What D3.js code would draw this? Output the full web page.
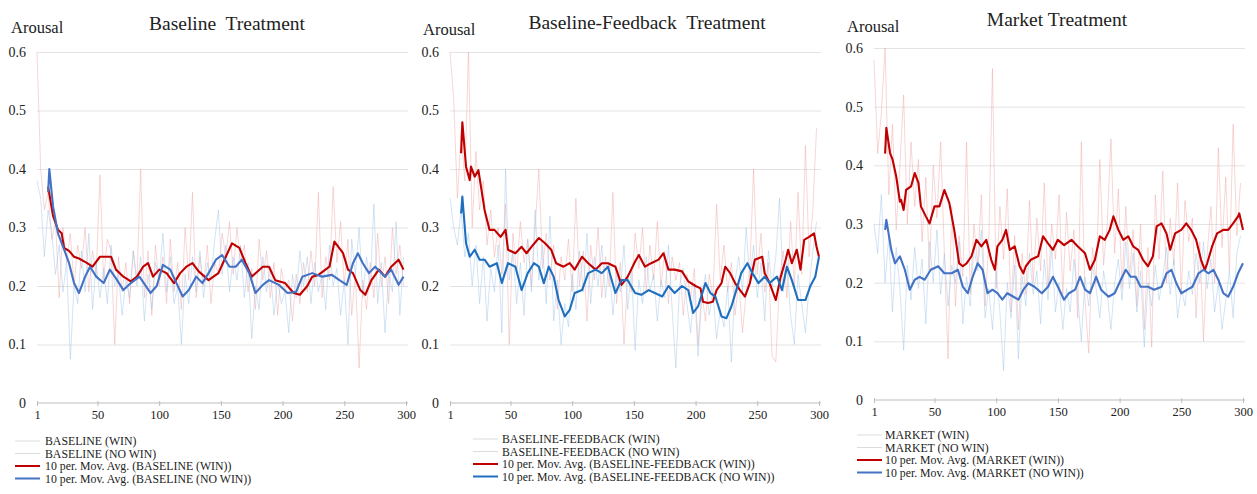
<!DOCTYPE html>
<html><head><meta charset="utf-8">
<script src="https://cdn.jsdelivr.net/npm/d3@7/dist/d3.min.js"></script>
<style>body{margin:0;background:#fff}svg{display:block}text{font-family:"Liberation Serif","Times New Roman",serif;fill:#222}</style>
</head><body><svg id="c" width="1257" height="494"></svg>
<script>
// ---------- data ----------
const yTicks = [0, 0.1, 0.2, 0.3, 0.4, 0.5, 0.6];
const yTickLabels = ["0", "0.1", "0.2", "0.3", "0.4", "0.5", "0.6"];
const xTicks = [1, 50, 100, 150, 200, 250, 300];
const titles = ["Baseline  Treatment", "Baseline-Feedback  Treatment", "Market Treatment"];
const yLabel = "Arousal";
const legendBaseline = ["BASELINE (WIN)", "BASELINE (NO WIN)", "10 per. Mov. Avg. (BASELINE (WIN))", "10 per. Mov. Avg. (BASELINE (NO WIN))"];
const legendFeedback = ["BASELINE-FEEDBACK (WIN)", "BASELINE-FEEDBACK (NO WIN)", "10 per. Mov. Avg. (BASELINE-FEEDBACK (WIN))", "10 per. Mov. Avg. (BASELINE-FEEDBACK (NO WIN))"];
const legendMarket = ["MARKET (WIN)", "MARKET (NO WIN)", "10 per. Mov. Avg. (MARKET (WIN))", "10 per. Mov. Avg. (MARKET (NO WIN))"];

// raw series, one value every 3 periods (periods 1,4,7,...,298)
const baseWin = [0.60,0.40,0.33,0.36,0.28,0.31,0.18,0.30,0.24,0.29,0.20,0.27,0.23,0.30,0.19,0.26,0.22,0.39,0.21,0.28,0.26,0.10,0.25,0.19,0.24,0.17,0.26,0.21,0.40,0.18,0.26,0.15,0.27,0.20,0.25,0.17,0.28,0.19,0.24,0.16,0.30,0.21,0.36,0.18,0.25,0.20,0.27,0.17,0.24,0.22,0.29,0.25,0.31,0.22,0.30,0.24,0.27,0.19,0.23,0.16,0.28,0.21,0.26,0.18,0.24,0.15,0.23,0.19,0.21,0.14,0.22,0.17,0.24,0.19,0.26,0.20,0.36,0.18,0.25,0.21,0.37,0.24,0.31,0.20,0.28,0.15,0.22,0.06,0.21,0.16,0.24,0.18,0.29,0.20,0.25,0.17,0.30,0.22,0.27,0.20];
const baseNoWin = [0.38,0.35,0.25,0.33,0.29,0.22,0.27,0.19,0.24,0.075,0.20,0.17,0.26,0.19,0.29,0.16,0.24,0.18,0.23,0.17,0.27,0.20,0.22,0.15,0.21,0.18,0.26,0.20,0.25,0.14,0.22,0.16,0.24,0.21,0.29,0.19,0.25,0.17,0.20,0.10,0.22,0.17,0.25,0.19,0.26,0.18,0.24,0.21,0.28,0.33,0.22,0.27,0.19,0.25,0.21,0.27,0.18,0.24,0.11,0.20,0.16,0.25,0.19,0.23,0.15,0.21,0.17,0.19,0.12,0.22,0.18,0.26,0.20,0.25,0.17,0.24,0.19,0.22,0.16,0.27,0.20,0.23,0.15,0.21,0.10,0.28,0.22,0.30,0.18,0.25,0.20,0.34,0.17,0.24,0.12,0.22,0.19,0.31,0.15,0.25];
const fbWin = [0.60,0.52,0.35,0.46,0.38,0.60,0.30,0.43,0.33,0.38,0.27,0.33,0.25,0.30,0.22,0.34,0.10,0.29,0.22,0.31,0.24,0.28,0.20,0.30,0.40,0.23,0.29,0.21,0.27,0.16,0.25,0.21,0.28,0.19,0.35,0.20,0.26,0.14,0.27,0.21,0.30,0.18,0.25,0.20,0.36,0.17,0.24,0.10,0.22,0.19,0.29,0.23,0.30,0.19,0.27,0.21,0.31,0.20,0.26,0.17,0.25,0.21,0.24,0.15,0.22,0.18,0.23,0.10,0.19,0.14,0.22,0.18,0.34,0.21,0.27,0.19,0.24,0.15,0.21,0.12,0.19,0.23,0.40,0.22,0.29,0.19,0.24,0.08,0.07,0.21,0.26,0.18,0.31,0.20,0.36,0.22,0.44,0.25,0.33,0.47];
const fbNoWin = [0.35,0.30,0.27,0.33,0.25,0.29,0.20,0.27,0.17,0.25,0.14,0.23,0.19,0.27,0.12,0.40,0.21,0.26,0.17,0.24,0.15,0.28,0.19,0.33,0.21,0.27,0.17,0.32,0.14,0.21,0.10,0.17,0.13,0.22,0.16,0.26,0.19,0.29,0.17,0.25,0.20,0.27,0.18,0.24,0.15,0.22,0.19,0.27,0.16,0.23,0.09,0.21,0.17,0.25,0.19,0.22,0.14,0.21,0.18,0.27,0.16,0.06,0.20,0.23,0.17,0.12,0.20,0.08,0.18,0.22,0.15,0.19,0.11,0.16,0.13,0.20,0.07,0.21,0.25,0.19,0.30,0.21,0.27,0.18,0.24,0.14,0.26,0.20,0.25,0.35,0.19,0.24,0.15,0.10,0.22,0.17,0.12,0.20,0.26,0.31];
const mkWin = [0.58,0.42,0.49,0.60,0.35,0.47,0.29,0.40,0.52,0.30,0.44,0.33,0.41,0.27,0.38,0.22,0.40,0.31,0.44,0.25,0.07,0.33,0.16,0.28,0.21,0.44,0.18,0.30,0.23,0.35,0.16,0.27,0.565,0.19,0.33,0.24,0.36,0.15,0.28,0.12,0.25,0.18,0.34,0.20,0.31,0.22,0.37,0.19,0.30,0.24,0.35,0.18,0.32,0.22,0.29,0.14,0.44,0.17,0.08,0.26,0.20,0.41,0.23,0.30,0.445,0.25,0.36,0.19,0.33,0.21,0.29,0.16,0.30,0.12,0.26,0.09,0.35,0.24,0.39,0.20,0.31,0.23,0.37,0.18,0.34,0.27,0.31,0.14,0.27,0.10,0.25,0.33,0.20,0.43,0.26,0.38,0.22,0.47,0.28,0.37];
const mkNoWin = [0.30,0.25,0.35,0.20,0.28,0.15,0.26,0.19,0.085,0.23,0.17,0.26,0.19,0.24,0.13,0.27,0.20,0.29,0.18,0.25,0.16,0.23,0.20,0.27,0.13,0.21,0.16,0.26,0.22,0.29,0.14,0.19,0.12,0.22,0.15,0.05,0.20,0.14,0.23,0.07,0.21,0.16,0.25,0.18,0.22,0.13,0.24,0.17,0.26,0.15,0.20,0.12,0.19,0.15,0.24,0.18,0.10,0.21,0.16,0.23,0.19,0.14,0.22,0.18,0.12,0.20,0.24,0.17,0.27,0.19,0.25,0.15,0.22,0.09,0.20,0.16,0.23,0.17,0.21,0.26,0.18,0.24,0.14,0.19,0.16,0.22,0.18,0.25,0.20,0.27,0.19,0.24,0.15,0.20,0.12,0.17,0.22,0.14,0.25,0.28];

// 10-period moving averages, read as [period, value]
const baseWinMA = [[10,0.37],[14,0.32],[18,0.296],[21,0.29],[23,0.265],[27,0.26],[31,0.25],[35,0.247],[41,0.24],[46,0.233],[52,0.25],[61,0.25],[65,0.228],[71,0.216],[77,0.208],[82,0.216],[87,0.233],[91,0.239],[95,0.216],[100,0.228],[106,0.222],[112,0.205],[117,0.222],[122,0.233],[127,0.239],[132,0.225],[140,0.21],[148,0.222],[154,0.25],[159,0.273],[165,0.265],[170,0.239],[175,0.216],[184,0.233],[189,0.233],[194,0.21],[202,0.205],[209,0.188],[214,0.185],[220,0.2],[224,0.216],[229,0.219],[238,0.233],[242,0.276],[249,0.256],[253,0.228],[257,0.222],[263,0.193],[267,0.185],[272,0.21],[278,0.228],[283,0.216],[288,0.233],[294,0.245],[298,0.228]];
const baseNoWinMA = [[10,0.36],[11,0.40],[14,0.336],[18,0.29],[23,0.262],[27,0.239],[31,0.205],[35,0.188],[40,0.216],[44,0.233],[49,0.216],[55,0.205],[60,0.228],[65,0.213],[71,0.193],[77,0.205],[84,0.216],[93,0.188],[98,0.2],[103,0.236],[109,0.228],[114,0.205],[119,0.182],[124,0.193],[130,0.216],[135,0.205],[140,0.222],[146,0.245],[151,0.253],[157,0.233],[162,0.233],[167,0.245],[173,0.222],[178,0.188],[184,0.202],[189,0.21],[197,0.202],[204,0.188],[211,0.19],[216,0.216],[224,0.222],[232,0.216],[240,0.219],[246,0.21],[252,0.202],[257,0.239],[261,0.256],[265,0.239],[270,0.222],[275,0.233],[283,0.216],[288,0.228],[294,0.202],[298,0.216]];
const fbWinMA = [[10,0.427],[11,0.48],[14,0.404],[17,0.381],[18,0.404],[21,0.387],[24,0.398],[27,0.358],[29,0.33],[33,0.296],[37,0.296],[42,0.284],[46,0.296],[48,0.262],[54,0.256],[59,0.267],[63,0.256],[67,0.267],[73,0.282],[78,0.273],[83,0.262],[87,0.239],[93,0.233],[98,0.239],[102,0.228],[108,0.25],[113,0.239],[119,0.228],[124,0.239],[129,0.239],[135,0.233],[140,0.202],[145,0.216],[151,0.242],[154,0.253],[159,0.233],[164,0.239],[170,0.245],[174,0.256],[178,0.228],[183,0.228],[189,0.225],[194,0.208],[200,0.2],[204,0.196],[206,0.173],[210,0.171],[214,0.173],[217,0.193],[221,0.205],[224,0.233],[228,0.222],[232,0.205],[236,0.193],[240,0.182],[244,0.205],[248,0.245],[254,0.25],[256,0.222],[260,0.205],[265,0.176],[269,0.216],[273,0.245],[275,0.262],[278,0.239],[282,0.262],[285,0.228],[288,0.279],[292,0.284],[296,0.29],[298,0.267],[300,0.25]];
const fbNoWinMA = [[10,0.324],[11,0.353],[14,0.273],[17,0.25],[21,0.262],[25,0.245],[29,0.245],[33,0.233],[39,0.239],[43,0.205],[48,0.239],[54,0.233],[59,0.193],[64,0.222],[69,0.239],[73,0.233],[77,0.205],[81,0.233],[85,0.216],[89,0.176],[94,0.148],[98,0.159],[102,0.188],[108,0.193],[113,0.222],[119,0.228],[124,0.222],[129,0.233],[135,0.188],[140,0.21],[145,0.21],[151,0.188],[156,0.185],[162,0.193],[167,0.188],[173,0.182],[178,0.2],[183,0.188],[189,0.2],[194,0.193],[198,0.154],[202,0.165],[208,0.205],[212,0.188],[216,0.182],[221,0.148],[225,0.145],[229,0.165],[233,0.193],[237,0.222],[242,0.239],[246,0.222],[251,0.205],[256,0.216],[260,0.205],[266,0.216],[270,0.193],[274,0.233],[278,0.21],[283,0.176],[289,0.176],[293,0.2],[297,0.216],[300,0.25]];
const mkWinMA = [[10,0.42],[11,0.464],[14,0.421],[16,0.41],[19,0.381],[22,0.338],[23,0.341],[25,0.324],[27,0.358],[31,0.364],[34,0.387],[37,0.37],[39,0.33],[43,0.313],[46,0.301],[50,0.33],[54,0.33],[58,0.358],[62,0.336],[66,0.29],[70,0.233],[73,0.228],[76,0.233],[80,0.245],[84,0.273],[88,0.262],[92,0.273],[96,0.239],[99,0.222],[101,0.262],[105,0.273],[108,0.29],[111,0.256],[115,0.262],[119,0.228],[122,0.216],[124,0.228],[128,0.239],[134,0.245],[138,0.279],[142,0.267],[146,0.256],[150,0.273],[155,0.264],[161,0.273],[166,0.262],[172,0.25],[176,0.222],[180,0.239],[184,0.279],[188,0.273],[192,0.29],[195,0.313],[199,0.29],[203,0.273],[207,0.279],[211,0.262],[215,0.256],[219,0.239],[223,0.228],[227,0.245],[230,0.296],[234,0.301],[238,0.284],[241,0.256],[245,0.284],[250,0.29],[254,0.301],[258,0.29],[262,0.273],[266,0.239],[269,0.222],[271,0.233],[275,0.262],[279,0.284],[284,0.29],[288,0.29],[292,0.301],[296,0.313],[297,0.318],[300,0.29]];
const mkNoWinMA = [[10,0.29],[11,0.307],[15,0.256],[18,0.233],[22,0.245],[26,0.222],[30,0.188],[34,0.205],[38,0.21],[42,0.205],[47,0.222],[53,0.228],[58,0.216],[64,0.216],[69,0.222],[73,0.193],[77,0.182],[81,0.21],[85,0.233],[89,0.222],[93,0.182],[97,0.188],[101,0.182],[105,0.171],[109,0.182],[114,0.176],[118,0.171],[122,0.188],[126,0.199],[131,0.193],[137,0.182],[142,0.193],[146,0.21],[150,0.193],[155,0.171],[159,0.182],[164,0.188],[168,0.21],[172,0.188],[176,0.182],[181,0.21],[185,0.188],[191,0.176],[196,0.182],[201,0.205],[205,0.222],[209,0.21],[213,0.21],[217,0.193],[223,0.193],[228,0.188],[234,0.193],[238,0.216],[242,0.222],[246,0.199],[250,0.182],[255,0.188],[259,0.193],[264,0.216],[268,0.222],[272,0.216],[276,0.222],[280,0.205],[284,0.182],[288,0.176],[292,0.193],[296,0.216],[300,0.233]];

// ---------- layout ----------
const panels = [
  {title: titles[0], raw: [baseWin, baseNoWin], ma: [baseWinMA, baseNoWinMA], legend: legendBaseline,
   x0: 37, x1: 406, yb: 403, yt: 52, tickRight: 26, arX: 11, arY: 33, tX: 227, tY: 30, legX: 15, legTX: 45, legY: 441, blue: "#4472c4"},
  {title: titles[1], raw: [fbWin, fbNoWin], ma: [fbWinMA, fbNoWinMA], legend: legendFeedback,
   x0: 450, x1: 819, yb: 403, yt: 52, tickRight: 439, arX: 423, arY: 35, tX: 647, tY: 29, legX: 473, legTX: 502, legY: 439, blue: "#1f6fbf"},
  {title: titles[2], raw: [mkWin, mkNoWin], ma: [mkWinMA, mkNoWinMA], legend: legendMarket,
   x0: 874, x1: 1243, yb: 400, yt: 48, tickRight: 863, arX: 847, arY: 32, tX: 1057, tY: 26, legX: 857, legTX: 885, legY: 435, blue: "#4472c4"}
];
const RED = "#c00000";
const RAW_COLORS = ["#f0a4a4", "#9cc4e8"];

const svg = d3.select("#c");

panels.forEach(P => {
  const g = svg.append("g");
  const x = d3.scaleLinear().domain([1, 300]).range([P.x0, P.x1]);
  const y = d3.scaleLinear().domain([0, 0.6]).range([P.yb, P.yt]);

  // gridlines + y labels
  const ya = d3.axisLeft(y).tickValues(yTicks).tickFormat((d, i) => yTickLabels[i])
    .tickSize(-(P.x1 - P.x0 + 2)).tickPadding(P.x0 - P.tickRight);
  const yg = g.append("g").attr("transform", `translate(${P.x0},0)`).call(ya);
  yg.select(".domain").remove();
  yg.selectAll(".tick line").attr("stroke", "#e3e3e3").attr("stroke-width", 1)
    .filter(d => d === 0).remove();
  yg.selectAll(".tick text").attr("font-size", 14).attr("font-family", "Liberation Serif").attr("fill", "#222");

  // x axis
  const xa = d3.axisBottom(x).tickValues(xTicks).tickFormat(d3.format("d")).tickSizeInner(4).tickSizeOuter(0).tickPadding(3);
  const xg = g.append("g").attr("transform", `translate(0,${P.yb})`).call(xa);
  xg.select(".domain").attr("stroke", "#bdbdbd").attr("d", `M${P.x0},0H${P.x1 + 2}`);
  xg.selectAll(".tick line").attr("stroke", "#bdbdbd").attr("y1", -2).attr("y2", 3);
  xg.selectAll(".tick text").attr("font-size", 12.5).attr("font-family", "Liberation Serif").attr("fill", "#222");

  // raw series
  const rawLine = d3.line().x((d, i) => x(1 + i * 3)).y(d => y(d));
  P.raw.forEach((s, k) => {
    g.append("path").datum(s).attr("d", rawLine).attr("fill", "none")
      .attr("stroke", RAW_COLORS[k]).attr("stroke-width", 1).attr("stroke-opacity", 0.45);
  });

  // moving averages
  const maLine = d3.line().x(d => x(d[0])).y(d => y(d[1]));
  [RED, P.blue].forEach((c, k) => {
    g.append("path").datum(P.ma[k]).attr("d", maLine).attr("fill", "none")
      .attr("stroke", c).attr("stroke-width", 2.1).attr("stroke-linejoin", "round");
  });

  // titles
  g.append("text").attr("x", P.tX).attr("y", P.tY).attr("text-anchor", "middle")
    .attr("font-size", 19.5).style("white-space", "pre").text(P.title);
  g.append("text").attr("x", P.arX).attr("y", P.arY).attr("font-size", 16.5).text(yLabel);

  // legend
  const legColors = ["#dcdcdc", "#dcdcdc", RED, P.blue];
  P.legend.forEach((t, i) => {
    const yy = P.legY + i * 12.5;
    g.append("line").attr("x1", P.legX).attr("x2", P.legX + 25).attr("y1", yy).attr("y2", yy)
      .attr("stroke", legColors[i]).attr("stroke-width", i < 2 ? 1 : 2);
    g.append("text").attr("x", P.legTX).attr("y", yy + 4).attr("font-size", 11.8).text(t);
  });
});
</script></body></html>
